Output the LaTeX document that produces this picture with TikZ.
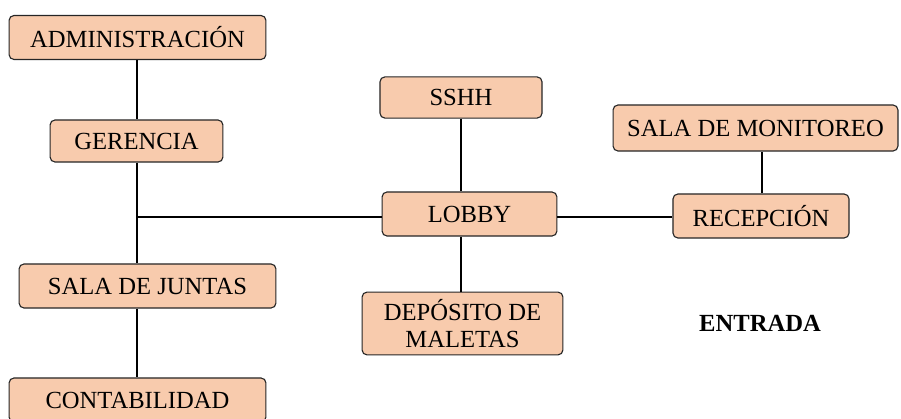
\documentclass[tikz,border=0pt]{standalone}
\usepackage{fontspec}
\setmainfont{Liberation Serif}
\usepackage{xcolor}
\usepackage{tikz}
\usetikzlibrary{positioning, calc}

\definecolor{salmon}{HTML}{F8CBAD}

\begin{document}
\begin{tikzpicture}[x=0.025cm, y=-0.025cm,
  area/.style={draw=black!85, line width=0.8pt, rectangle, rounded corners=3.5pt, fill=salmon,
    font=\fontsize{17.5}{19.5}\selectfont, align=center, inner sep=1pt, minimum height=1.1cm},
  link/.style={line width=2pt, black}]
\useasboundingbox (0,0) rectangle (901,419);

% Left column
\node[area, minimum width=6.42cm] (admin) at (137.5, 37.5) {ADMINISTRACIÓN};
\node[area, minimum width=4.32cm, minimum height=1.05cm] (gerencia) at (136.5, 141) {GERENCIA};
\node[area, minimum width=6.42cm] (juntas) at (147.5, 286) {SALA DE JUNTAS};
\node[area, minimum width=6.42cm] (conta) at (137.5, 400) {CONTABILIDAD};

% Middle column
\node[area, minimum width=4.05cm, minimum height=1.03cm] (sshh) at (461, 97.5) {SSHH};
\node[area, minimum width=4.37cm] (lobby) at (469.5, 214) {LOBBY};
\node[area, minimum width=5.02cm, minimum height=1.57cm] (deposito) at (462.5, 323.5) {DEPÓSITO DE\\MALETAS};

% Right column
\node[area, minimum width=7.12cm, minimum height=1.15cm] (monitoreo) at (755.5, 128) {SALA DE MONITOREO};
\node[area, minimum width=4.4cm] (recepcion) at (761, 216) {RECEPCIÓN};
\node[font=\fontsize{17.5}{19.5}\selectfont\bfseries] (entrada) at (760, 323) {ENTRADA};

% Connections
\coordinate (cruce) at (137, 217);
\draw[link] (admin.south -| cruce) -- (gerencia.north -| cruce);
\draw[link] (gerencia.south -| cruce) -- (juntas.north -| cruce);
\draw[link] (juntas.south -| cruce) -- (conta.north -| cruce);
\draw[link] (cruce) -- (cruce -| lobby.west);
\draw[link] (sshh.south) -- (sshh.south |- lobby.north);
\draw[link] (sshh.south |- lobby.south) -- (sshh.south |- deposito.north);
\draw[link] (lobby.east |- cruce) -- (recepcion.west |- cruce);
\draw[link] (recepcion.north -| 762,0) -- (monitoreo.south -| 762,0);
\end{tikzpicture}
\end{document}
